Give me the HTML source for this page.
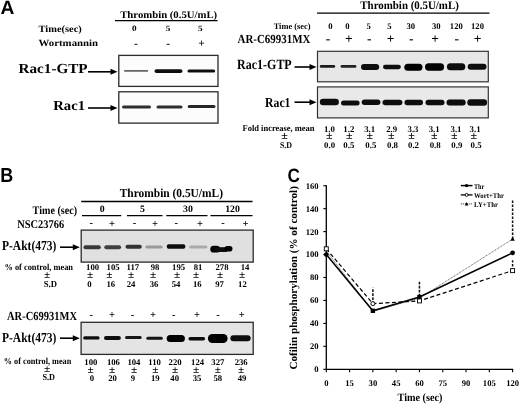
<!DOCTYPE html>
<html><head><meta charset="utf-8"><title>Figure</title>
<style>
html,body{margin:0;padding:0;background:#fff;width:520px;height:404px;overflow:hidden;}
svg{display:block;font-family:"Liberation Serif", serif;text-rendering:geometricPrecision;filter:grayscale(1);}
</style></head>
<body>
<svg width="520" height="404" viewBox="0 0 520 404"><defs><filter id="b5" x="-20%" y="-200%" width="140%" height="500%"><feGaussianBlur stdDeviation="0.5"/></filter><filter id="b6" x="-20%" y="-200%" width="140%" height="500%"><feGaussianBlur stdDeviation="0.6"/></filter><filter id="b7" x="-20%" y="-200%" width="140%" height="500%"><feGaussianBlur stdDeviation="0.7"/></filter></defs><rect width="520" height="404" fill="#fff"/><text x="0.60" y="14.40" font-size="19.2" font-family='"Liberation Sans", sans-serif' font-weight="bold" fill="#000">A</text>
<text x="120.20" y="18.20" font-size="10.1" font-family='"Liberation Serif", serif' font-weight="bold" fill="#000" textLength="97.00" lengthAdjust="spacingAndGlyphs">Thrombin (0.5U/mL)</text>
<line x1="115" y1="20.6" x2="217.5" y2="20.6" stroke="#000" stroke-width="1.3"/>
<text x="38.60" y="32.20" font-size="9.6" font-family='"Liberation Serif", serif' font-weight="bold" fill="#000" textLength="43.20" lengthAdjust="spacingAndGlyphs">Time(sec)</text>
<text x="134.40" y="31.40" font-size="8.2" font-family='"Liberation Serif", serif' font-weight="bold" fill="#000" text-anchor="middle" textLength="4.60" lengthAdjust="spacingAndGlyphs">0</text>
<text x="168.00" y="31.40" font-size="8.2" font-family='"Liberation Serif", serif' font-weight="bold" fill="#000" text-anchor="middle" textLength="4.60" lengthAdjust="spacingAndGlyphs">5</text>
<text x="200.20" y="31.40" font-size="8.2" font-family='"Liberation Serif", serif' font-weight="bold" fill="#000" text-anchor="middle" textLength="4.60" lengthAdjust="spacingAndGlyphs">5</text>
<text x="38.60" y="45.60" font-size="9.5" font-family='"Liberation Serif", serif' font-weight="bold" fill="#000" textLength="59.50" lengthAdjust="spacingAndGlyphs">Wortmannin</text>
<text x="136.00" y="47.20" font-size="11.5" font-family='"Liberation Serif", serif' font-weight="bold" fill="#000" text-anchor="middle">-</text>
<text x="168.20" y="47.20" font-size="11.5" font-family='"Liberation Serif", serif' font-weight="bold" fill="#000" text-anchor="middle">-</text>
<text x="201.50" y="47.02" font-size="11.5" font-family='"Liberation Serif", serif' font-weight="bold" fill="#000" text-anchor="middle">+</text>
<text x="18.60" y="73.30" font-size="13.8" font-family='"Liberation Serif", serif' font-weight="bold" fill="#000" textLength="69.00" lengthAdjust="spacingAndGlyphs">Rac1-GTP</text>
<text x="53.20" y="110.40" font-size="13.8" font-family='"Liberation Serif", serif' font-weight="bold" fill="#000" textLength="31.80" lengthAdjust="spacingAndGlyphs">Rac1</text>
<line x1="88" y1="71.8" x2="111.5" y2="71.8" stroke="#000" stroke-width="1.6"/>
<polygon points="110.5,68.8 117.5,71.8 110.5,74.8" fill="#000"/>
<line x1="88" y1="108" x2="111.5" y2="108" stroke="#000" stroke-width="1.6"/>
<polygon points="110.5,105.0 117.5,108 110.5,111.0" fill="#000"/>
<rect x="118.8" y="55.4" width="99.2" height="31.0" fill="#fcfcfc" stroke="#2a2a2a" stroke-width="1.3"/>
<rect x="118.8" y="91.8" width="99.2" height="31.3" fill="#fcfcfc" stroke="#2a2a2a" stroke-width="1.3"/>
<rect x="124" y="69.95" width="24.30000000000001" height="1.7" rx="0.85" ry="0.85" fill="#666" opacity="1" filter="url(#b6)"/>
<rect x="154.5" y="69.19999999999999" width="28.0" height="3.8" rx="1.9" ry="1.9" fill="#111" opacity="1" filter="url(#b6)"/>
<rect x="187.5" y="69.4" width="27.69999999999999" height="3.2" rx="1.6" ry="1.6" fill="#111" opacity="1" filter="url(#b6)"/>
<rect x="122" y="105.5" width="29" height="3.0" rx="1.5" ry="1.5" fill="#2e2e2e" opacity="1" filter="url(#b7)"/>
<rect x="156.5" y="105.5" width="26.0" height="3.0" rx="1.5" ry="1.5" fill="#2e2e2e" opacity="1" filter="url(#b7)"/>
<rect x="187.7" y="104.9" width="27.80000000000001" height="3.2" rx="1.6" ry="1.6" fill="#262626" opacity="1" filter="url(#b7)"/>
<text x="360.30" y="9.00" font-size="11.5" font-family='"Liberation Serif", serif' font-weight="bold" fill="#000" textLength="98.50" lengthAdjust="spacingAndGlyphs">Thrombin (0.5U/mL)</text>
<line x1="317" y1="13.1" x2="489.5" y2="13.1" stroke="#000" stroke-width="1.1"/>
<text x="273.70" y="28.80" font-size="8.6" font-family='"Liberation Serif", serif' font-weight="bold" fill="#000" textLength="36.80" lengthAdjust="spacingAndGlyphs">Time (sec)</text>
<text x="330.50" y="28.80" font-size="8.6" font-family='"Liberation Serif", serif' font-weight="bold" fill="#000" text-anchor="middle">0</text>
<text x="347.50" y="28.80" font-size="8.6" font-family='"Liberation Serif", serif' font-weight="bold" fill="#000" text-anchor="middle">0</text>
<text x="368.70" y="28.80" font-size="8.6" font-family='"Liberation Serif", serif' font-weight="bold" fill="#000" text-anchor="middle">5</text>
<text x="389.50" y="28.80" font-size="8.6" font-family='"Liberation Serif", serif' font-weight="bold" fill="#000" text-anchor="middle">5</text>
<text x="410.80" y="28.80" font-size="8.6" font-family='"Liberation Serif", serif' font-weight="bold" fill="#000" text-anchor="middle">30</text>
<text x="436.20" y="28.80" font-size="8.6" font-family='"Liberation Serif", serif' font-weight="bold" fill="#000" text-anchor="middle">30</text>
<text x="456.30" y="28.80" font-size="8.6" font-family='"Liberation Serif", serif' font-weight="bold" fill="#000" text-anchor="middle">120</text>
<text x="477.50" y="28.80" font-size="8.6" font-family='"Liberation Serif", serif' font-weight="bold" fill="#000" text-anchor="middle">120</text>
<text x="237.50" y="43.10" font-size="12.4" font-family='"Liberation Serif", serif' font-weight="bold" fill="#000" textLength="73.00" lengthAdjust="spacingAndGlyphs">AR-C69931MX</text>
<text x="328.10" y="42.97" font-size="13.5" font-family='"Liberation Serif", serif' font-weight="bold" fill="#000" text-anchor="middle">-</text>
<text x="348.80" y="42.98" font-size="13.5" font-family='"Liberation Serif", serif' font-weight="bold" fill="#000" text-anchor="middle">+</text>
<text x="369.30" y="42.97" font-size="13.5" font-family='"Liberation Serif", serif' font-weight="bold" fill="#000" text-anchor="middle">-</text>
<text x="390.50" y="42.98" font-size="13.5" font-family='"Liberation Serif", serif' font-weight="bold" fill="#000" text-anchor="middle">+</text>
<text x="411.30" y="42.97" font-size="13.5" font-family='"Liberation Serif", serif' font-weight="bold" fill="#000" text-anchor="middle">-</text>
<text x="435.20" y="42.98" font-size="13.5" font-family='"Liberation Serif", serif' font-weight="bold" fill="#000" text-anchor="middle">+</text>
<text x="456.80" y="42.97" font-size="13.5" font-family='"Liberation Serif", serif' font-weight="bold" fill="#000" text-anchor="middle">-</text>
<text x="477.50" y="42.98" font-size="13.5" font-family='"Liberation Serif", serif' font-weight="bold" fill="#000" text-anchor="middle">+</text>
<text x="237.10" y="69.20" font-size="14.0" font-family='"Liberation Serif", serif' font-weight="bold" fill="#000" textLength="54.60" lengthAdjust="spacingAndGlyphs">Rac1-GTP</text>
<text x="265.00" y="107.10" font-size="13.6" font-family='"Liberation Serif", serif' font-weight="bold" fill="#000" textLength="25.50" lengthAdjust="spacingAndGlyphs">Rac1</text>
<line x1="294.5" y1="67" x2="310.5" y2="67" stroke="#000" stroke-width="1.6"/>
<polygon points="309.5,64.0 316.5,67 309.5,70.0" fill="#000"/>
<line x1="294.5" y1="102.2" x2="310.5" y2="102.2" stroke="#000" stroke-width="1.6"/>
<polygon points="309.5,99.2 316.5,102.2 309.5,105.2" fill="#000"/>
<rect x="317.5" y="51.3" width="170.8" height="30.5" fill="#e7e7e7" stroke="#333" stroke-width="1.2"/>
<rect x="317.5" y="86.9" width="170.8" height="31.0" fill="#e9e9e9" stroke="#333" stroke-width="1.2"/>
<rect x="319.8" y="65.0" width="15.399999999999977" height="2.8" rx="1.4" ry="1.4" fill="#1a1a1a" opacity="1" filter="url(#b7)"/>
<rect x="340.6" y="65.10000000000001" width="15.799999999999955" height="2.6" rx="1.3" ry="1.3" fill="#222" opacity="1" filter="url(#b7)"/>
<rect x="361" y="64.0" width="18.19999999999999" height="6" rx="3.0" ry="3.0" fill="#0a0a0a" opacity="1" filter="url(#b7)"/>
<rect x="383" y="64.85" width="17.80000000000001" height="4.3" rx="2.15" ry="2.15" fill="#0a0a0a" opacity="1" filter="url(#b7)"/>
<rect x="404.3" y="63.7" width="18.19999999999999" height="7" rx="3.5" ry="3.5" fill="#050505" opacity="1" filter="url(#b7)"/>
<rect x="425" y="63.35" width="19.100000000000023" height="7.3" rx="3.65" ry="3.65" fill="#050505" opacity="1" filter="url(#b7)"/>
<rect x="446.9" y="63.2" width="18.400000000000034" height="7" rx="3.5" ry="3.5" fill="#0a0a0a" opacity="1" filter="url(#b7)"/>
<rect x="467.7" y="63.8" width="18.80000000000001" height="6" rx="3.0" ry="3.0" fill="#0a0a0a" opacity="1" filter="url(#b7)"/>
<rect x="319.8" y="98.75" width="19.099999999999966" height="6.5" rx="3.25" ry="3.25" fill="#0a0a0a" opacity="1" filter="url(#b7)"/>
<rect x="341" y="100.5" width="18.600000000000023" height="5" rx="2.5" ry="2.5" fill="#111" opacity="1" filter="url(#b7)"/>
<rect x="361.7" y="99.55" width="18.69999999999999" height="5.5" rx="2.75" ry="2.75" fill="#111" opacity="1" filter="url(#b7)"/>
<rect x="382.5" y="99.7" width="19.899999999999977" height="5.6" rx="2.8" ry="2.8" fill="#111" opacity="1" filter="url(#b7)"/>
<rect x="404.5" y="99.8" width="18.5" height="5.4" rx="2.7" ry="2.7" fill="#111" opacity="1" filter="url(#b7)"/>
<rect x="425.5" y="99.8" width="19.0" height="5.4" rx="2.7" ry="2.7" fill="#111" opacity="1" filter="url(#b7)"/>
<rect x="446.5" y="99.5" width="19.19999999999999" height="6" rx="3.0" ry="3.0" fill="#0a0a0a" opacity="1" filter="url(#b7)"/>
<rect x="467.3" y="99.3" width="19.80000000000001" height="6.4" rx="3.2" ry="3.2" fill="#0a0a0a" opacity="1" filter="url(#b7)"/>
<text x="242.50" y="131.30" font-size="8.8" font-family='"Liberation Serif", serif' font-weight="bold" fill="#000" textLength="72.00" lengthAdjust="spacingAndGlyphs">Fold increase, mean</text>
<text x="284.50" y="138.50" font-size="10.5" font-family='"Liberation Serif", serif' font-weight="bold" fill="#000" text-anchor="middle" textLength="6.60" lengthAdjust="spacingAndGlyphs">±</text>
<text x="279.90" y="147.60" font-size="8.8" font-family='"Liberation Serif", serif' font-weight="bold" fill="#000" textLength="12.20" lengthAdjust="spacingAndGlyphs">S.D</text>
<text x="329.40" y="131.80" font-size="8.8" font-family='"Liberation Serif", serif' font-weight="bold" fill="#000" text-anchor="middle">1.0</text>
<text x="329.30" y="138.50" font-size="10.5" font-family='"Liberation Serif", serif' font-weight="bold" fill="#000" text-anchor="middle" textLength="6.60" lengthAdjust="spacingAndGlyphs">±</text>
<text x="329.60" y="147.90" font-size="8.8" font-family='"Liberation Serif", serif' font-weight="bold" fill="#000" text-anchor="middle">0.0</text>
<text x="348.80" y="131.80" font-size="8.8" font-family='"Liberation Serif", serif' font-weight="bold" fill="#000" text-anchor="middle">1.2</text>
<text x="349.40" y="138.50" font-size="10.5" font-family='"Liberation Serif", serif' font-weight="bold" fill="#000" text-anchor="middle" textLength="6.60" lengthAdjust="spacingAndGlyphs">±</text>
<text x="348.80" y="147.90" font-size="8.8" font-family='"Liberation Serif", serif' font-weight="bold" fill="#000" text-anchor="middle">0.5</text>
<text x="369.70" y="131.80" font-size="8.8" font-family='"Liberation Serif", serif' font-weight="bold" fill="#000" text-anchor="middle">3.1</text>
<text x="369.70" y="138.50" font-size="10.5" font-family='"Liberation Serif", serif' font-weight="bold" fill="#000" text-anchor="middle" textLength="6.60" lengthAdjust="spacingAndGlyphs">±</text>
<text x="370.80" y="147.90" font-size="8.8" font-family='"Liberation Serif", serif' font-weight="bold" fill="#000" text-anchor="middle">0.5</text>
<text x="391.70" y="131.80" font-size="8.8" font-family='"Liberation Serif", serif' font-weight="bold" fill="#000" text-anchor="middle">2.9</text>
<text x="391.30" y="138.50" font-size="10.5" font-family='"Liberation Serif", serif' font-weight="bold" fill="#000" text-anchor="middle" textLength="6.60" lengthAdjust="spacingAndGlyphs">±</text>
<text x="392.50" y="147.90" font-size="8.8" font-family='"Liberation Serif", serif' font-weight="bold" fill="#000" text-anchor="middle">0.8</text>
<text x="413.00" y="131.80" font-size="8.8" font-family='"Liberation Serif", serif' font-weight="bold" fill="#000" text-anchor="middle">3.3</text>
<text x="411.60" y="138.50" font-size="10.5" font-family='"Liberation Serif", serif' font-weight="bold" fill="#000" text-anchor="middle" textLength="6.60" lengthAdjust="spacingAndGlyphs">±</text>
<text x="413.50" y="147.90" font-size="8.8" font-family='"Liberation Serif", serif' font-weight="bold" fill="#000" text-anchor="middle">0.2</text>
<text x="434.20" y="131.80" font-size="8.8" font-family='"Liberation Serif", serif' font-weight="bold" fill="#000" text-anchor="middle">3.1</text>
<text x="434.20" y="138.50" font-size="10.5" font-family='"Liberation Serif", serif' font-weight="bold" fill="#000" text-anchor="middle" textLength="6.60" lengthAdjust="spacingAndGlyphs">±</text>
<text x="435.20" y="147.90" font-size="8.8" font-family='"Liberation Serif", serif' font-weight="bold" fill="#000" text-anchor="middle">0.8</text>
<text x="456.00" y="131.80" font-size="8.8" font-family='"Liberation Serif", serif' font-weight="bold" fill="#000" text-anchor="middle">3.1</text>
<text x="454.40" y="138.50" font-size="10.5" font-family='"Liberation Serif", serif' font-weight="bold" fill="#000" text-anchor="middle" textLength="6.60" lengthAdjust="spacingAndGlyphs">±</text>
<text x="456.80" y="147.90" font-size="8.8" font-family='"Liberation Serif", serif' font-weight="bold" fill="#000" text-anchor="middle">0.9</text>
<text x="475.10" y="131.80" font-size="8.8" font-family='"Liberation Serif", serif' font-weight="bold" fill="#000" text-anchor="middle">3.1</text>
<text x="473.90" y="138.50" font-size="10.5" font-family='"Liberation Serif", serif' font-weight="bold" fill="#000" text-anchor="middle" textLength="6.60" lengthAdjust="spacingAndGlyphs">±</text>
<text x="476.10" y="147.90" font-size="8.8" font-family='"Liberation Serif", serif' font-weight="bold" fill="#000" text-anchor="middle">0.5</text>
<text x="0.30" y="181.90" font-size="20.2" font-family='"Liberation Sans", sans-serif' font-weight="bold" fill="#000" textLength="13.00" lengthAdjust="spacingAndGlyphs">B</text>
<text x="119.70" y="196.80" font-size="12.3" font-family='"Liberation Serif", serif' font-weight="bold" fill="#000" textLength="103.30" lengthAdjust="spacingAndGlyphs">Thrombin (0.5U/mL)</text>
<line x1="81.2" y1="201.5" x2="252.5" y2="201.5" stroke="#000" stroke-width="1.6"/>
<text x="32.60" y="213.60" font-size="11.5" font-family='"Liberation Serif", serif' font-weight="bold" fill="#000" textLength="44.50" lengthAdjust="spacingAndGlyphs">Time (sec)</text>
<text x="102.30" y="212.00" font-size="9.8" font-family='"Liberation Serif", serif' font-weight="bold" fill="#000" text-anchor="middle">0</text>
<text x="142.50" y="212.00" font-size="9.8" font-family='"Liberation Serif", serif' font-weight="bold" fill="#000" text-anchor="middle">5</text>
<text x="188.00" y="212.00" font-size="9.8" font-family='"Liberation Serif", serif' font-weight="bold" fill="#000" text-anchor="middle">30</text>
<text x="232.50" y="212.00" font-size="9.8" font-family='"Liberation Serif", serif' font-weight="bold" fill="#000" text-anchor="middle">120</text>
<line x1="82" y1="215.6" x2="121.3" y2="215.6" stroke="#000" stroke-width="1.2"/>
<line x1="127" y1="215.6" x2="162.5" y2="215.6" stroke="#000" stroke-width="1.2"/>
<line x1="166.3" y1="215.6" x2="207.5" y2="215.6" stroke="#000" stroke-width="1.2"/>
<line x1="210.5" y1="215.6" x2="252.5" y2="215.6" stroke="#000" stroke-width="1.2"/>
<text x="17.30" y="228.00" font-size="11.8" font-family='"Liberation Serif", serif' font-weight="bold" fill="#000" textLength="46.80" lengthAdjust="spacingAndGlyphs">NSC23766</text>
<text x="91.20" y="226.27" font-size="10.5" font-family='"Liberation Serif", serif' font-weight="bold" fill="#000" text-anchor="middle">-</text>
<text x="111.90" y="226.59" font-size="10.5" font-family='"Liberation Serif", serif' font-weight="bold" fill="#000" text-anchor="middle">+</text>
<text x="134.50" y="226.27" font-size="10.5" font-family='"Liberation Serif", serif' font-weight="bold" fill="#000" text-anchor="middle">-</text>
<text x="155.00" y="226.59" font-size="10.5" font-family='"Liberation Serif", serif' font-weight="bold" fill="#000" text-anchor="middle">+</text>
<text x="176.30" y="226.27" font-size="10.5" font-family='"Liberation Serif", serif' font-weight="bold" fill="#000" text-anchor="middle">-</text>
<text x="200.00" y="226.59" font-size="10.5" font-family='"Liberation Serif", serif' font-weight="bold" fill="#000" text-anchor="middle">+</text>
<text x="223.00" y="226.27" font-size="10.5" font-family='"Liberation Serif", serif' font-weight="bold" fill="#000" text-anchor="middle">-</text>
<text x="245.50" y="226.59" font-size="10.5" font-family='"Liberation Serif", serif' font-weight="bold" fill="#000" text-anchor="middle">+</text>
<rect x="81.2" y="230.1" width="172.0" height="32" fill="#e0e0e0" stroke="#2a2a2a" stroke-width="1.3"/>
<text x="2.00" y="250.10" font-size="13.6" font-family='"Liberation Serif", serif' font-weight="bold" fill="#000" textLength="54.30" lengthAdjust="spacingAndGlyphs">P-Akt(473)</text>
<line x1="60" y1="247.2" x2="73.8" y2="247.2" stroke="#000" stroke-width="1.6"/>
<polygon points="72.8,244.2 79.8,247.2 72.8,250.2" fill="#000"/>
<rect x="83.5" y="245.3" width="17.299999999999997" height="4" rx="2.0" ry="2.0" fill="#383838" opacity="1" filter="url(#b7)"/>
<rect x="104.3" y="245.3" width="16.799999999999997" height="4" rx="2.0" ry="2.0" fill="#404040" opacity="1" filter="url(#b7)"/>
<rect x="125.5" y="244.8" width="16.30000000000001" height="4" rx="2.0" ry="2.0" fill="#333" opacity="1" filter="url(#b7)"/>
<rect x="145.3" y="245.5" width="17.299999999999983" height="3" rx="1.5" ry="1.5" fill="#999" opacity="1" filter="url(#b7)"/>
<rect x="166.7" y="244.15" width="18.700000000000017" height="4.5" rx="2.25" ry="2.25" fill="#0a0a0a" opacity="1" filter="url(#b7)"/>
<rect x="189.2" y="245.6" width="18.200000000000017" height="3" rx="1.5" ry="1.5" fill="#aaa" opacity="1" filter="url(#b7)"/>
<rect x="210.3" y="245.79999999999998" width="9.699999999999989" height="6.8" rx="3.4" ry="3.4" fill="#050505" opacity="1" filter="url(#b7)"/>
<rect x="214" y="247.29999999999998" width="14" height="4.6" rx="2.3" ry="2.3" fill="#080808" opacity="1" filter="url(#b7)"/>
<rect x="224.5" y="246.0" width="8.0" height="5.6" rx="2.8" ry="2.8" fill="#050505" opacity="1" filter="url(#b7)"/>
<text x="4.50" y="270.10" font-size="9.2" font-family='"Liberation Serif", serif' font-weight="bold" fill="#000" textLength="68.50" lengthAdjust="spacingAndGlyphs">% of control, mean</text>
<text x="47.00" y="278.40" font-size="10.2" font-family='"Liberation Serif", serif' font-weight="bold" fill="#000" text-anchor="middle" textLength="6.20" lengthAdjust="spacingAndGlyphs">±</text>
<text x="43.80" y="287.10" font-size="9.2" font-family='"Liberation Serif", serif' font-weight="bold" fill="#000" textLength="13.20" lengthAdjust="spacingAndGlyphs">S.D</text>
<text x="92.60" y="270.20" font-size="8.7" font-family='"Liberation Serif", serif' font-weight="bold" fill="#000" text-anchor="middle">100</text>
<text x="90.00" y="278.30" font-size="10.2" font-family='"Liberation Serif", serif' font-weight="bold" fill="#000" text-anchor="middle" textLength="6.20" lengthAdjust="spacingAndGlyphs">±</text>
<text x="89.50" y="286.70" font-size="8.7" font-family='"Liberation Serif", serif' font-weight="bold" fill="#000" text-anchor="middle">0</text>
<text x="113.10" y="270.20" font-size="8.7" font-family='"Liberation Serif", serif' font-weight="bold" fill="#000" text-anchor="middle">105</text>
<text x="109.40" y="278.30" font-size="10.2" font-family='"Liberation Serif", serif' font-weight="bold" fill="#000" text-anchor="middle" textLength="6.20" lengthAdjust="spacingAndGlyphs">±</text>
<text x="110.80" y="286.70" font-size="8.7" font-family='"Liberation Serif", serif' font-weight="bold" fill="#000" text-anchor="middle">16</text>
<text x="132.90" y="270.20" font-size="8.7" font-family='"Liberation Serif", serif' font-weight="bold" fill="#000" text-anchor="middle">117</text>
<text x="131.00" y="278.30" font-size="10.2" font-family='"Liberation Serif", serif' font-weight="bold" fill="#000" text-anchor="middle" textLength="6.20" lengthAdjust="spacingAndGlyphs">±</text>
<text x="131.00" y="286.70" font-size="8.7" font-family='"Liberation Serif", serif' font-weight="bold" fill="#000" text-anchor="middle">24</text>
<text x="155.00" y="270.20" font-size="8.7" font-family='"Liberation Serif", serif' font-weight="bold" fill="#000" text-anchor="middle">98</text>
<text x="153.00" y="278.30" font-size="10.2" font-family='"Liberation Serif", serif' font-weight="bold" fill="#000" text-anchor="middle" textLength="6.20" lengthAdjust="spacingAndGlyphs">±</text>
<text x="154.00" y="286.70" font-size="8.7" font-family='"Liberation Serif", serif' font-weight="bold" fill="#000" text-anchor="middle">36</text>
<text x="178.60" y="270.20" font-size="8.7" font-family='"Liberation Serif", serif' font-weight="bold" fill="#000" text-anchor="middle">195</text>
<text x="177.10" y="278.30" font-size="10.2" font-family='"Liberation Serif", serif' font-weight="bold" fill="#000" text-anchor="middle" textLength="6.20" lengthAdjust="spacingAndGlyphs">±</text>
<text x="176.00" y="286.70" font-size="8.7" font-family='"Liberation Serif", serif' font-weight="bold" fill="#000" text-anchor="middle">54</text>
<text x="198.00" y="270.20" font-size="8.7" font-family='"Liberation Serif", serif' font-weight="bold" fill="#000" text-anchor="middle">81</text>
<text x="196.10" y="278.30" font-size="10.2" font-family='"Liberation Serif", serif' font-weight="bold" fill="#000" text-anchor="middle" textLength="6.20" lengthAdjust="spacingAndGlyphs">±</text>
<text x="197.30" y="286.70" font-size="8.7" font-family='"Liberation Serif", serif' font-weight="bold" fill="#000" text-anchor="middle">16</text>
<text x="222.00" y="270.20" font-size="8.7" font-family='"Liberation Serif", serif' font-weight="bold" fill="#000" text-anchor="middle">278</text>
<text x="220.00" y="278.30" font-size="10.2" font-family='"Liberation Serif", serif' font-weight="bold" fill="#000" text-anchor="middle" textLength="6.20" lengthAdjust="spacingAndGlyphs">±</text>
<text x="219.60" y="286.70" font-size="8.7" font-family='"Liberation Serif", serif' font-weight="bold" fill="#000" text-anchor="middle">97</text>
<text x="245.00" y="270.20" font-size="8.7" font-family='"Liberation Serif", serif' font-weight="bold" fill="#000" text-anchor="middle">14</text>
<text x="242.00" y="278.30" font-size="10.2" font-family='"Liberation Serif", serif' font-weight="bold" fill="#000" text-anchor="middle" textLength="6.20" lengthAdjust="spacingAndGlyphs">±</text>
<text x="242.40" y="286.70" font-size="8.7" font-family='"Liberation Serif", serif' font-weight="bold" fill="#000" text-anchor="middle">12</text>
<text x="7.00" y="320.10" font-size="12.4" font-family='"Liberation Serif", serif' font-weight="bold" fill="#000" textLength="70.00" lengthAdjust="spacingAndGlyphs">AR-C69931MX</text>
<text x="91.30" y="317.67" font-size="10.5" font-family='"Liberation Serif", serif' font-weight="bold" fill="#000" text-anchor="middle">-</text>
<text x="112.00" y="318.09" font-size="10.5" font-family='"Liberation Serif", serif' font-weight="bold" fill="#000" text-anchor="middle">+</text>
<text x="132.50" y="317.67" font-size="10.5" font-family='"Liberation Serif", serif' font-weight="bold" fill="#000" text-anchor="middle">-</text>
<text x="153.00" y="318.09" font-size="10.5" font-family='"Liberation Serif", serif' font-weight="bold" fill="#000" text-anchor="middle">+</text>
<text x="173.80" y="317.67" font-size="10.5" font-family='"Liberation Serif", serif' font-weight="bold" fill="#000" text-anchor="middle">-</text>
<text x="197.00" y="318.09" font-size="10.5" font-family='"Liberation Serif", serif' font-weight="bold" fill="#000" text-anchor="middle">+</text>
<text x="218.00" y="317.67" font-size="10.5" font-family='"Liberation Serif", serif' font-weight="bold" fill="#000" text-anchor="middle">-</text>
<text x="241.80" y="318.09" font-size="10.5" font-family='"Liberation Serif", serif' font-weight="bold" fill="#000" text-anchor="middle">+</text>
<rect x="81.1" y="322.3" width="172.1" height="32.1" fill="#e4e4e4" stroke="#2a2a2a" stroke-width="1.3"/>
<text x="2.00" y="341.80" font-size="13.6" font-family='"Liberation Serif", serif' font-weight="bold" fill="#000" textLength="54.30" lengthAdjust="spacingAndGlyphs">P-Akt(473)</text>
<line x1="60" y1="338.2" x2="73.8" y2="338.2" stroke="#000" stroke-width="1.6"/>
<polygon points="72.8,335.2 79.8,338.2 72.8,341.2" fill="#000"/>
<rect x="83.2" y="336.29999999999995" width="16.39999999999999" height="3.2" rx="1.6" ry="1.6" fill="#0a0a0a" opacity="1" filter="url(#b7)"/>
<rect x="104" y="335.9" width="16.900000000000006" height="4" rx="2.0" ry="2.0" fill="#0a0a0a" opacity="1" filter="url(#b7)"/>
<rect x="125" y="336.0" width="16.69999999999999" height="3" rx="1.5" ry="1.5" fill="#151515" opacity="1" filter="url(#b7)"/>
<rect x="146.3" y="336.7" width="16.5" height="3" rx="1.5" ry="1.5" fill="#151515" opacity="1" filter="url(#b7)"/>
<rect x="166.7" y="334.9" width="18.200000000000017" height="7" rx="3.5" ry="3.5" fill="#050505" opacity="1" filter="url(#b7)"/>
<rect x="188.4" y="337.05" width="16.69999999999999" height="3.5" rx="1.75" ry="1.75" fill="#0a0a0a" opacity="1" filter="url(#b7)"/>
<rect x="207.9" y="334.0" width="19.69999999999999" height="9" rx="4.5" ry="4.5" fill="#050505" opacity="1" filter="url(#b7)"/>
<rect x="230.4" y="335.3" width="20.19999999999999" height="6" rx="3.0" ry="3.0" fill="#0a0a0a" opacity="1" filter="url(#b7)"/>
<text x="3.80" y="364.30" font-size="9.2" font-family='"Liberation Serif", serif' font-weight="bold" fill="#000" textLength="67.50" lengthAdjust="spacingAndGlyphs">% of control, mean</text>
<text x="47.00" y="372.40" font-size="10.2" font-family='"Liberation Serif", serif' font-weight="bold" fill="#000" text-anchor="middle" textLength="6.20" lengthAdjust="spacingAndGlyphs">±</text>
<text x="42.50" y="380.10" font-size="9.2" font-family='"Liberation Serif", serif' font-weight="bold" fill="#000" textLength="12.50" lengthAdjust="spacingAndGlyphs">S.D</text>
<text x="90.80" y="364.60" font-size="8.7" font-family='"Liberation Serif", serif' font-weight="bold" fill="#000" text-anchor="middle">100</text>
<text x="90.70" y="372.60" font-size="10.2" font-family='"Liberation Serif", serif' font-weight="bold" fill="#000" text-anchor="middle" textLength="6.20" lengthAdjust="spacingAndGlyphs">±</text>
<text x="91.80" y="380.70" font-size="8.7" font-family='"Liberation Serif", serif' font-weight="bold" fill="#000" text-anchor="middle">0</text>
<text x="113.40" y="364.60" font-size="8.7" font-family='"Liberation Serif", serif' font-weight="bold" fill="#000" text-anchor="middle">106</text>
<text x="112.00" y="372.60" font-size="10.2" font-family='"Liberation Serif", serif' font-weight="bold" fill="#000" text-anchor="middle" textLength="6.20" lengthAdjust="spacingAndGlyphs">±</text>
<text x="112.50" y="380.70" font-size="8.7" font-family='"Liberation Serif", serif' font-weight="bold" fill="#000" text-anchor="middle">20</text>
<text x="133.90" y="364.60" font-size="8.7" font-family='"Liberation Serif", serif' font-weight="bold" fill="#000" text-anchor="middle">104</text>
<text x="134.00" y="372.60" font-size="10.2" font-family='"Liberation Serif", serif' font-weight="bold" fill="#000" text-anchor="middle" textLength="6.20" lengthAdjust="spacingAndGlyphs">±</text>
<text x="132.80" y="380.70" font-size="8.7" font-family='"Liberation Serif", serif' font-weight="bold" fill="#000" text-anchor="middle">9</text>
<text x="154.60" y="364.60" font-size="8.7" font-family='"Liberation Serif", serif' font-weight="bold" fill="#000" text-anchor="middle">110</text>
<text x="155.30" y="372.60" font-size="10.2" font-family='"Liberation Serif", serif' font-weight="bold" fill="#000" text-anchor="middle" textLength="6.20" lengthAdjust="spacingAndGlyphs">±</text>
<text x="155.30" y="380.70" font-size="8.7" font-family='"Liberation Serif", serif' font-weight="bold" fill="#000" text-anchor="middle">19</text>
<text x="175.10" y="364.60" font-size="8.7" font-family='"Liberation Serif", serif' font-weight="bold" fill="#000" text-anchor="middle">220</text>
<text x="175.00" y="372.60" font-size="10.2" font-family='"Liberation Serif", serif' font-weight="bold" fill="#000" text-anchor="middle" textLength="6.20" lengthAdjust="spacingAndGlyphs">±</text>
<text x="174.70" y="380.70" font-size="8.7" font-family='"Liberation Serif", serif' font-weight="bold" fill="#000" text-anchor="middle">40</text>
<text x="197.60" y="364.60" font-size="8.7" font-family='"Liberation Serif", serif' font-weight="bold" fill="#000" text-anchor="middle">124</text>
<text x="196.10" y="372.60" font-size="10.2" font-family='"Liberation Serif", serif' font-weight="bold" fill="#000" text-anchor="middle" textLength="6.20" lengthAdjust="spacingAndGlyphs">±</text>
<text x="197.00" y="380.70" font-size="8.7" font-family='"Liberation Serif", serif' font-weight="bold" fill="#000" text-anchor="middle">35</text>
<text x="217.80" y="364.60" font-size="8.7" font-family='"Liberation Serif", serif' font-weight="bold" fill="#000" text-anchor="middle">327</text>
<text x="217.80" y="372.60" font-size="10.2" font-family='"Liberation Serif", serif' font-weight="bold" fill="#000" text-anchor="middle" textLength="6.20" lengthAdjust="spacingAndGlyphs">±</text>
<text x="217.80" y="380.70" font-size="8.7" font-family='"Liberation Serif", serif' font-weight="bold" fill="#000" text-anchor="middle">58</text>
<text x="241.20" y="364.60" font-size="8.7" font-family='"Liberation Serif", serif' font-weight="bold" fill="#000" text-anchor="middle">236</text>
<text x="241.10" y="372.60" font-size="10.2" font-family='"Liberation Serif", serif' font-weight="bold" fill="#000" text-anchor="middle" textLength="6.20" lengthAdjust="spacingAndGlyphs">±</text>
<text x="242.00" y="380.70" font-size="8.7" font-family='"Liberation Serif", serif' font-weight="bold" fill="#000" text-anchor="middle">49</text>
<text x="287.60" y="181.80" font-size="19.4" font-family='"Liberation Sans", sans-serif' font-weight="bold" fill="#000" textLength="12.40" lengthAdjust="spacingAndGlyphs">C</text>
<line x1="326.3" y1="185.20000000000002" x2="326.3" y2="369.90000000000003" stroke="#000" stroke-width="1.3"/>
<line x1="325.7" y1="369.3" x2="513.2" y2="369.3" stroke="#000" stroke-width="1.3"/>
<line x1="323.3" y1="369.3" x2="326.3" y2="369.3" stroke="#000" stroke-width="1.1"/>
<text x="318.60" y="372.20" font-size="8.6" font-family='"Liberation Serif", serif' font-weight="bold" fill="#000" text-anchor="end">0</text>
<line x1="323.3" y1="346.35" x2="326.3" y2="346.35" stroke="#000" stroke-width="1.1"/>
<text x="318.60" y="349.25" font-size="8.6" font-family='"Liberation Serif", serif' font-weight="bold" fill="#000" text-anchor="end">20</text>
<line x1="323.3" y1="323.40000000000003" x2="326.3" y2="323.40000000000003" stroke="#000" stroke-width="1.1"/>
<text x="318.60" y="326.30" font-size="8.6" font-family='"Liberation Serif", serif' font-weight="bold" fill="#000" text-anchor="end">40</text>
<line x1="323.3" y1="300.45000000000005" x2="326.3" y2="300.45000000000005" stroke="#000" stroke-width="1.1"/>
<text x="318.60" y="303.35" font-size="8.6" font-family='"Liberation Serif", serif' font-weight="bold" fill="#000" text-anchor="end">60</text>
<line x1="323.3" y1="277.5" x2="326.3" y2="277.5" stroke="#000" stroke-width="1.1"/>
<text x="318.60" y="280.40" font-size="8.6" font-family='"Liberation Serif", serif' font-weight="bold" fill="#000" text-anchor="end">80</text>
<line x1="323.3" y1="254.55" x2="326.3" y2="254.55" stroke="#000" stroke-width="1.1"/>
<text x="318.60" y="257.45" font-size="8.6" font-family='"Liberation Serif", serif' font-weight="bold" fill="#000" text-anchor="end">100</text>
<line x1="323.3" y1="231.60000000000002" x2="326.3" y2="231.60000000000002" stroke="#000" stroke-width="1.1"/>
<text x="318.60" y="234.50" font-size="8.6" font-family='"Liberation Serif", serif' font-weight="bold" fill="#000" text-anchor="end">120</text>
<line x1="323.3" y1="208.65" x2="326.3" y2="208.65" stroke="#000" stroke-width="1.1"/>
<text x="318.60" y="211.55" font-size="8.6" font-family='"Liberation Serif", serif' font-weight="bold" fill="#000" text-anchor="end">140</text>
<line x1="323.3" y1="185.70000000000002" x2="326.3" y2="185.70000000000002" stroke="#000" stroke-width="1.1"/>
<text x="318.60" y="188.60" font-size="8.6" font-family='"Liberation Serif", serif' font-weight="bold" fill="#000" text-anchor="end">160</text>
<line x1="326.3" y1="369.3" x2="326.3" y2="372.3" stroke="#000" stroke-width="1.1"/>
<text x="326.30" y="385.60" font-size="8.6" font-family='"Liberation Serif", serif' font-weight="bold" fill="#000" text-anchor="middle">0</text>
<line x1="349.58750000000003" y1="369.3" x2="349.58750000000003" y2="372.3" stroke="#000" stroke-width="1.1"/>
<text x="349.59" y="385.60" font-size="8.6" font-family='"Liberation Serif", serif' font-weight="bold" fill="#000" text-anchor="middle">15</text>
<line x1="372.875" y1="369.3" x2="372.875" y2="372.3" stroke="#000" stroke-width="1.1"/>
<text x="372.88" y="385.60" font-size="8.6" font-family='"Liberation Serif", serif' font-weight="bold" fill="#000" text-anchor="middle">30</text>
<line x1="396.1625" y1="369.3" x2="396.1625" y2="372.3" stroke="#000" stroke-width="1.1"/>
<text x="396.16" y="385.60" font-size="8.6" font-family='"Liberation Serif", serif' font-weight="bold" fill="#000" text-anchor="middle">45</text>
<line x1="419.45000000000005" y1="369.3" x2="419.45000000000005" y2="372.3" stroke="#000" stroke-width="1.1"/>
<text x="419.45" y="385.60" font-size="8.6" font-family='"Liberation Serif", serif' font-weight="bold" fill="#000" text-anchor="middle">60</text>
<line x1="442.7375" y1="369.3" x2="442.7375" y2="372.3" stroke="#000" stroke-width="1.1"/>
<text x="442.74" y="385.60" font-size="8.6" font-family='"Liberation Serif", serif' font-weight="bold" fill="#000" text-anchor="middle">75</text>
<line x1="466.025" y1="369.3" x2="466.025" y2="372.3" stroke="#000" stroke-width="1.1"/>
<text x="466.02" y="385.60" font-size="8.6" font-family='"Liberation Serif", serif' font-weight="bold" fill="#000" text-anchor="middle">90</text>
<line x1="489.3125" y1="369.3" x2="489.3125" y2="372.3" stroke="#000" stroke-width="1.1"/>
<text x="489.31" y="385.60" font-size="8.6" font-family='"Liberation Serif", serif' font-weight="bold" fill="#000" text-anchor="middle">105</text>
<line x1="512.6" y1="369.3" x2="512.6" y2="372.3" stroke="#000" stroke-width="1.1"/>
<text x="512.60" y="385.60" font-size="8.6" font-family='"Liberation Serif", serif' font-weight="bold" fill="#000" text-anchor="middle">120</text>
<text x="397.50" y="401.00" font-size="11.2" font-family='"Liberation Serif", serif' font-weight="bold" fill="#000" textLength="45.00" lengthAdjust="spacingAndGlyphs">Time (sec)</text>
<g transform="translate(296.5,369.6) rotate(-90)">
<text x="0.00" y="0.00" font-size="10.9" font-family='"Liberation Serif", serif' font-weight="bold" fill="#000" textLength="183.50" lengthAdjust="spacingAndGlyphs">Cofilin phosphorylation (% of control)</text>
</g>
<line x1="326.30" y1="248.81" x2="326.30" y2="245.37" stroke="#111" stroke-width="1.5" stroke-dasharray="2.6,1.4"/>
<line x1="372.88" y1="303.89" x2="372.88" y2="287.83" stroke="#111" stroke-width="1.5" stroke-dasharray="2.6,1.4"/>
<line x1="419.45" y1="300.45" x2="419.45" y2="281.52" stroke="#111" stroke-width="1.5" stroke-dasharray="2.6,1.4"/>
<line x1="512.60" y1="239.06" x2="512.60" y2="200.04" stroke="#111" stroke-width="1.5" stroke-dasharray="2.6,1.4"/>
<line x1="512.60" y1="270.62" x2="512.60" y2="260.29" stroke="#111" stroke-width="1.5" stroke-dasharray="2.6,1.4"/>
<polyline points="326.30,251.11 372.88,311.35 419.45,298.16 512.60,239.06" fill="none" stroke="#333" stroke-width="0.8" stroke-dasharray="1,0.8"/>
<polyline points="326.30,248.81 372.88,303.66 419.45,300.91 512.60,270.62" fill="none" stroke="#000" stroke-width="1.2" stroke-dasharray="4,2.5"/>
<polyline points="326.30,254.55 372.88,310.78 419.45,297.01 512.60,252.83" fill="none" stroke="#000" stroke-width="1.5"/>
<circle cx="326.30" cy="254.55" r="2.4" fill="#000"/>
<rect x="370.68" y="308.58" width="4.4" height="4.4" fill="#000"/>
<rect x="417.25" y="294.81" width="4.4" height="4.4" fill="#000"/>
<circle cx="512.60" cy="252.83" r="2.4" fill="#000"/>
<rect x="324.30" y="246.81" width="4" height="4" fill="#fff" stroke="#000" stroke-width="0.9"/>
<circle cx="372.88" cy="303.66" r="2" fill="#fff" stroke="#000" stroke-width="0.9"/>
<rect x="417.45" y="298.91" width="4" height="4" fill="#fff" stroke="#000" stroke-width="0.9"/>
<rect x="510.60" y="268.62" width="4" height="4" fill="#fff" stroke="#000" stroke-width="0.9"/>
<polygon points="510.40,240.86 514.80,240.86 512.60,236.86" fill="#000"/>
<line x1="460.8" y1="185.6" x2="472.5" y2="185.6" stroke="#000" stroke-width="1.5"/>
<circle cx="466.6" cy="185.6" r="1.7" fill="#000"/>
<text x="474.00" y="188.80" font-size="7.4" font-family='"Liberation Serif", serif' font-weight="bold" fill="#000" textLength="10.30" lengthAdjust="spacingAndGlyphs">Thr</text>
<line x1="460.8" y1="194.9" x2="472.5" y2="194.9" stroke="#000" stroke-width="1.3"/>
<circle cx="466.6" cy="194.9" r="1.5" fill="#fff" stroke="#000" stroke-width="0.9"/>
<text x="474.00" y="197.70" font-size="7.4" font-family='"Liberation Serif", serif' font-weight="bold" fill="#000" textLength="30.00" lengthAdjust="spacingAndGlyphs">Wort+Thr</text>
<line x1="460.8" y1="203.9" x2="472.5" y2="203.9" stroke="#000" stroke-width="0.9" stroke-dasharray="1,1"/>
<polygon points="464.8,205.4 468.40000000000003,205.4 466.6,202.1" fill="#000"/>
<text x="474.00" y="206.70" font-size="7.4" font-family='"Liberation Serif", serif' font-weight="bold" fill="#000" textLength="24.00" lengthAdjust="spacingAndGlyphs">LY+Thr</text></svg>
</body></html>
